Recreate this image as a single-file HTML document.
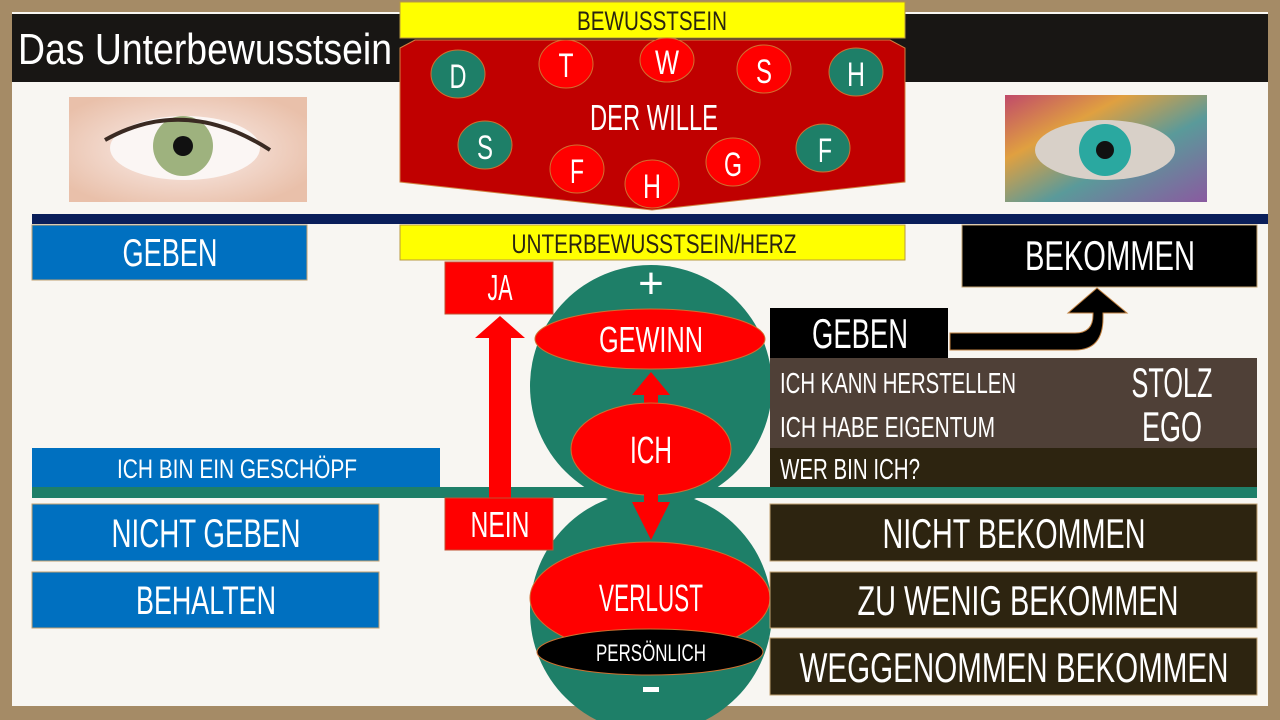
<!DOCTYPE html>
<html><head><meta charset="utf-8"><style>
html,body{margin:0;padding:0;width:1280px;height:720px;overflow:hidden;background:#a58b66}
svg{display:block}
text{font-family:"Liberation Sans",sans-serif;fill:#fff;text-anchor:middle}
</style></head><body>
<svg width="1280" height="720" viewBox="0 0 1280 720" xmlns="http://www.w3.org/2000/svg">
<defs>
<radialGradient id="eyeL" cx="0.48" cy="0.5" r="0.6"><stop offset="0" stop-color="#fff"/><stop offset="0.5" stop-color="#f2d8cc"/><stop offset="1" stop-color="#e9c0aa"/></radialGradient>
<linearGradient id="eyeR" x1="0" y1="0" x2="1" y2="1"><stop offset="0" stop-color="#c04a6a"/><stop offset="0.3" stop-color="#e0a040"/><stop offset="0.6" stop-color="#5a9a9a"/><stop offset="1" stop-color="#8a5aa0"/></linearGradient>
</defs>
<rect x="12" y="12" width="1256" height="694" fill="#f8f6f2"/>
<rect x="12" y="14" width="1256" height="68" fill="#181614"/>
<text x="18" y="64" font-size="44" style="text-anchor:start" textLength="374" lengthAdjust="spacingAndGlyphs">Das Unterbewusstsein</text>
<!-- eyes -->
<rect x="69" y="97" width="238" height="105" fill="url(#eyeL)"/>
<ellipse cx="185" cy="148" rx="75" ry="32" fill="#fbf6f4"/>
<circle cx="183" cy="146" r="30" fill="#9eb27e"/>
<circle cx="183" cy="146" r="10" fill="#111"/>
<path d="M105 140 Q185 95 270 150" stroke="#3a2a22" stroke-width="4" fill="none"/>
<rect x="1005" y="95" width="202" height="107" fill="url(#eyeR)"/>
<ellipse cx="1105" cy="150" rx="70" ry="30" fill="#d8d0c8"/>
<circle cx="1105" cy="150" r="26" fill="#2aa8a0"/>
<circle cx="1105" cy="150" r="9" fill="#111"/>
<!-- top -->
<rect x="400" y="2" width="505" height="36" fill="#ffff00" stroke="#b89a40"/>
<text x="652" y="30" font-size="27" style="fill:#2a2410" textLength="150" lengthAdjust="spacingAndGlyphs">BEWUSSTSEIN</text>
<path d="M400 48 L415 40 L890 40 L905 48 L905 182 L652 210 L400 182 Z" fill="#c00000" stroke="#d08040"/>
<text x="654" y="130" font-size="36" textLength="128" lengthAdjust="spacingAndGlyphs">DER WILLE</text>
<g stroke="#d07030" stroke-width="1">
<ellipse cx="458" cy="74" rx="27" ry="24" fill="#1e7f68"/>
<ellipse cx="566" cy="64" rx="27" ry="24" fill="#ff0000"/>
<ellipse cx="667" cy="60" rx="27" ry="22" fill="#ff0000"/>
<ellipse cx="764" cy="69" rx="27" ry="24" fill="#ff0000"/>
<ellipse cx="856" cy="72" rx="27" ry="24" fill="#1e7f68"/>
<ellipse cx="485" cy="145" rx="27" ry="24" fill="#1e7f68"/>
<ellipse cx="577" cy="169" rx="27" ry="24" fill="#ff0000"/>
<ellipse cx="652" cy="184" rx="27" ry="24" fill="#ff0000"/>
<ellipse cx="733" cy="162" rx="27" ry="24" fill="#ff0000"/>
<ellipse cx="823" cy="148" rx="27" ry="24" fill="#1e7f68"/>
</g>
<g font-size="34">
<text x="458" y="88" textLength="17" lengthAdjust="spacingAndGlyphs">D</text>
<text x="566" y="77" textLength="15" lengthAdjust="spacingAndGlyphs">T</text>
<text x="667" y="74" textLength="24" lengthAdjust="spacingAndGlyphs">W</text>
<text x="764" y="83" textLength="16" lengthAdjust="spacingAndGlyphs">S</text>
<text x="856" y="86" textLength="18" lengthAdjust="spacingAndGlyphs">H</text>
<text x="485" y="159" textLength="16" lengthAdjust="spacingAndGlyphs">S</text>
<text x="577" y="183" textLength="14" lengthAdjust="spacingAndGlyphs">F</text>
<text x="652" y="198" textLength="18" lengthAdjust="spacingAndGlyphs">H</text>
<text x="733" y="176" textLength="18" lengthAdjust="spacingAndGlyphs">G</text>
<text x="825" y="162" textLength="14" lengthAdjust="spacingAndGlyphs">F</text>
</g>
<rect x="32" y="214" width="1236" height="10" fill="#0a1e5a"/>
<rect x="400" y="225" width="505" height="35" fill="#ffff00" stroke="#b89a40"/>
<text x="654" y="253" font-size="27" style="fill:#2a2410" textLength="285" lengthAdjust="spacingAndGlyphs">UNTERBEWUSSTSEIN/HERZ</text>
<!-- left boxes -->
<rect x="32" y="225" width="275" height="55" fill="#0070c0" stroke="#c0a070"/>
<text x="170" y="266" font-size="39" textLength="95" lengthAdjust="spacingAndGlyphs">GEBEN</text>
<rect x="32" y="448" width="408" height="39" fill="#0070c0"/>
<text x="237" y="478" font-size="27" textLength="240" lengthAdjust="spacingAndGlyphs">ICH BIN EIN GESCHÖPF</text>
<rect x="32" y="504" width="347" height="57" fill="#0070c0" stroke="#c0a070"/>
<text x="206" y="547" font-size="40" textLength="189" lengthAdjust="spacingAndGlyphs">NICHT GEBEN</text>
<rect x="32" y="572" width="347" height="56" fill="#0070c0" stroke="#c0a070"/>
<text x="206" y="614" font-size="40" textLength="140" lengthAdjust="spacingAndGlyphs">BEHALTEN</text>
<!-- circles -->
<circle cx="651" cy="386" r="121" fill="#1e7f68"/>
<circle cx="651" cy="612" r="121" fill="#1e7f68"/>
<rect x="32" y="487" width="1225" height="11" fill="#1e7f68"/>
<text x="651" y="298" font-size="44">+</text>
<ellipse cx="650" cy="339" rx="115" ry="30" fill="#ff0000" stroke="#d07030"/>
<text x="651" y="352" font-size="36" textLength="104" lengthAdjust="spacingAndGlyphs">GEWINN</text>
<path d="M644 405 L644 395 L632 395 L651 372 L670 395 L658 395 L658 405 Z" fill="#ff0000"/>
<ellipse cx="651" cy="449" rx="80" ry="46" fill="#ff0000" stroke="#d07030"/>
<text x="651" y="463" font-size="38" textLength="42" lengthAdjust="spacingAndGlyphs">ICH</text>
<path d="M644 490 L658 490 L658 502 L670 502 L651 540 L632 502 L644 502 Z" fill="#ff0000"/>
<ellipse cx="650" cy="598" rx="120" ry="56" fill="#ff0000" stroke="#d07030"/>
<text x="651" y="611" font-size="38" textLength="104" lengthAdjust="spacingAndGlyphs">VERLUST</text>
<ellipse cx="650" cy="652" rx="113" ry="23" fill="#000" stroke="#d07030"/>
<text x="651" y="661" font-size="24" textLength="110" lengthAdjust="spacingAndGlyphs">PERSÖNLICH</text>
<rect x="643" y="687" width="16" height="5" fill="#fff"/>
<!-- JA/NEIN -->
<rect x="445" y="262" width="108" height="52" fill="#ff0000" stroke="#c05030"/>
<text x="500" y="300" font-size="36" textLength="25" lengthAdjust="spacingAndGlyphs">JA</text>
<path d="M489 505 L489 338 L475 338 L500 316 L525 338 L511 338 L511 505 Z" fill="#ff0000"/>
<rect x="445" y="498" width="108" height="52" fill="#ff0000" stroke="#c05030"/>
<text x="500" y="537" font-size="36" textLength="59" lengthAdjust="spacingAndGlyphs">NEIN</text>
<!-- right -->
<rect x="962" y="225" width="295" height="62" fill="#000" stroke="#c0a070"/>
<text x="1110" y="270" font-size="42" textLength="170" lengthAdjust="spacingAndGlyphs">BEKOMMEN</text>
<path d="M950 333 L1075 333 Q1093 333 1093 315 L1093 313 L1068 313 L1097 288 L1127 313 L1103 313 L1103 318 Q1103 350 1075 350 L950 350 Z" fill="#000" stroke="#c08040"/>
<rect x="770" y="308" width="178" height="50" fill="#000"/>
<text x="860" y="348" font-size="42" textLength="96" lengthAdjust="spacingAndGlyphs">GEBEN</text>
<rect x="770" y="358" width="487" height="90" fill="#4f4037"/>
<text x="780" y="393" font-size="29" style="text-anchor:start" textLength="236" lengthAdjust="spacingAndGlyphs">ICH KANN HERSTELLEN</text>
<text x="780" y="437" font-size="29" style="text-anchor:start" textLength="215" lengthAdjust="spacingAndGlyphs">ICH HABE EIGENTUM</text>
<text x="1172" y="397" font-size="42" textLength="81" lengthAdjust="spacingAndGlyphs">STOLZ</text>
<text x="1172" y="441" font-size="42" textLength="60" lengthAdjust="spacingAndGlyphs">EGO</text>
<rect x="770" y="448" width="487" height="39" fill="#2d2410"/>
<text x="780" y="479" font-size="29" style="text-anchor:start" textLength="140" lengthAdjust="spacingAndGlyphs">WER BIN ICH?</text>
<rect x="770" y="504" width="487" height="57" fill="#2d2410" stroke="#c0a070"/>
<text x="1014" y="548" font-size="42" textLength="263" lengthAdjust="spacingAndGlyphs">NICHT BEKOMMEN</text>
<rect x="770" y="572" width="487" height="56" fill="#2d2410" stroke="#c0a070"/>
<text x="1018" y="615" font-size="42" textLength="321" lengthAdjust="spacingAndGlyphs">ZU WENIG BEKOMMEN</text>
<rect x="770" y="638" width="487" height="57" fill="#2d2410" stroke="#c0a070"/>
<text x="1014" y="682" font-size="42" textLength="429" lengthAdjust="spacingAndGlyphs">WEGGENOMMEN BEKOMMEN</text>
</svg>
</body></html>
